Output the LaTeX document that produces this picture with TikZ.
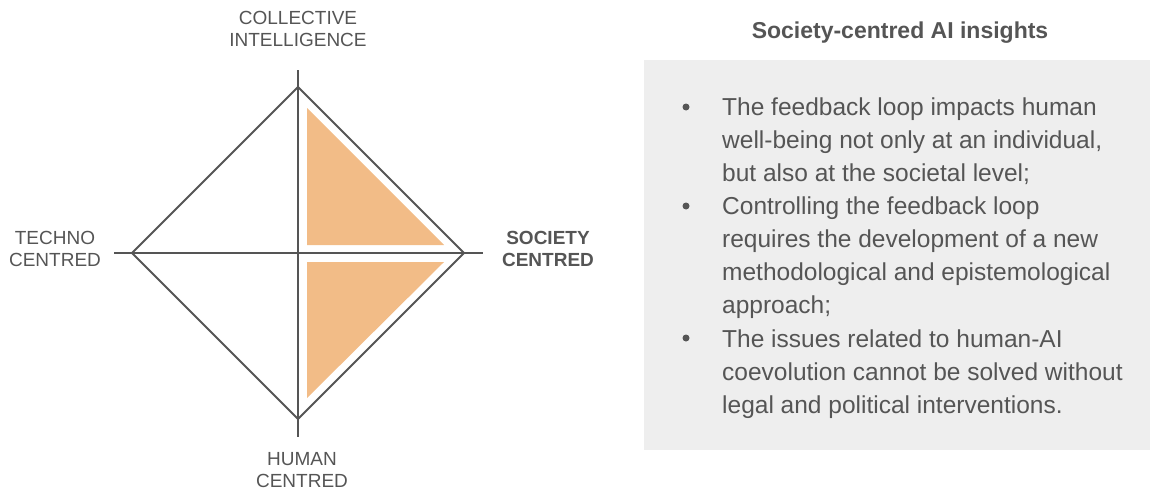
\documentclass[tikz,border=0pt]{standalone}
\usepackage{fontspec}
\setmainfont{Liberation Sans}
\usetikzlibrary{positioning}
\definecolor{inkgrey}{HTML}{555555}
\definecolor{axisgrey}{HTML}{555555}
\definecolor{peach}{HTML}{F2BC87}
\definecolor{panelgrey}{HTML}{EEEEEE}

\tikzset{
  axislabel/.style={align=center, text=inkgrey, inner sep=0pt, font=\fontsize{19}{22}\selectfont},
  bulletitem/.style={anchor=base west, align=left, text=inkgrey, inner sep=0pt, font=\fontsize{24.5}{33}\selectfont},
  bulletdot/.style={fill=inkgrey, draw=none, circle, minimum size=7pt, inner sep=0pt}
}

\begin{document}
\begin{tikzpicture}[x=1pt,y=-1pt]
\useasboundingbox (0,0) rectangle (1150,490);

\coordinate (mid) at (298,253);
\coordinate (top) at (298,87);
\coordinate (bot) at (298,419);
\coordinate (lft) at (132,253);
\coordinate (rgt) at (464,253);

\fill[peach] (307,108) -- (307,245) -- (444,245) -- cycle;
\fill[peach] (307,262) -- (444,262) -- (307,398) -- cycle;

\draw[axisgrey, line width=2pt] (298,70) -- (298,437);
\draw[axisgrey, line width=2pt] (114,253) -- (483,253);
\draw[axisgrey, line width=2pt, line join=miter] (top) -- (rgt) -- (bot) -- (lft) -- cycle;

\node[axislabel] (collective) at (298,29) {COLLECTIVE\\INTELLIGENCE};
\node[axislabel] (techno) at (55,249) {TECHNO\\CENTRED};
\node[axislabel, font=\fontsize{19}{22}\selectfont\bfseries] (society) at (548,249) {SOCIETY\\CENTRED};
\node[axislabel] (human) at (302,470) {HUMAN\\CENTRED};

\node[text=inkgrey, font=\fontsize{23}{26}\selectfont\bfseries, inner sep=0pt] (title) at (900,33) {Society-centred AI insights};

\fill[panelgrey] (644,60) rectangle (1150,450);

\node[bulletdot] (dot1) at (686,107) {};
\node[bulletdot] (dot2) at (686,206) {};
\node[bulletdot] (dot3) at (686,338) {};

\node[bulletitem] (item1) at (722,181) {The feedback loop impacts human\\well-being not only at an individual,\\but also at the societal level;};
\node[bulletitem] (item2) at (722,313) {Controlling the feedback loop\\requires the development of a new\\methodological and epistemological\\approach;};
\node[bulletitem] (item3) at (722,413) {The issues related to human-AI\\coevolution cannot be solved without\\legal and political interventions.};
\end{tikzpicture}
\end{document}
